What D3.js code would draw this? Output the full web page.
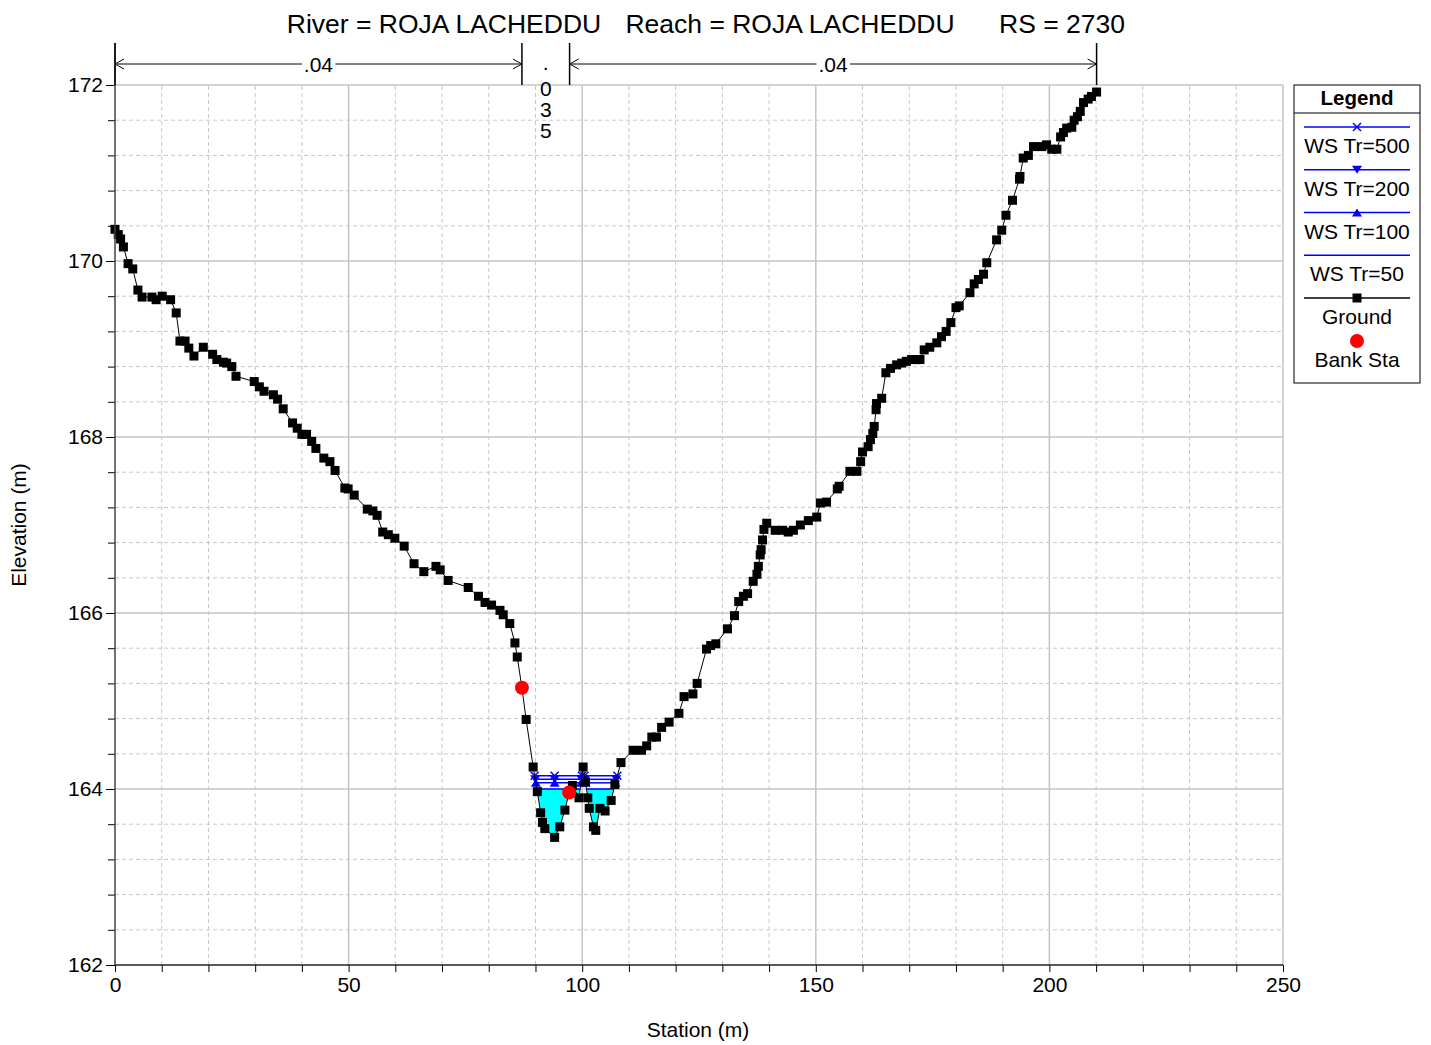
<!DOCTYPE html>
<html>
<head>
<meta charset="utf-8">
<script src="https://cdn.jsdelivr.net/npm/d3@7"></script>
<style>
  body { margin: 0; background: #fff; }
  svg { display: block; font-family: "Liberation Sans", Arial, Helvetica, sans-serif; }
</style>
</head>
<body>
<svg id="chart" width="1431" height="1045"></svg>
<script>
// ground points (station m, elevation m)
const groundSta = [
  0.0, 0.7, 1.2, 1.8, 2.8, 3.8, 4.9, 5.8, 7.9, 8.8, 10.1, 11.9, 13.1, 13.9, 15.0, 15.8, 16.9, 18.9,
  20.9, 21.8, 23.2, 23.9, 25.0, 25.9, 29.8, 30.9, 31.9, 33.9, 34.8, 36.0, 38.0, 39.0, 40.0, 41.0,
  42.1, 43.0, 44.7, 46.0, 47.1, 49.2, 49.9, 51.2, 54.0, 55.2, 56.1, 57.3, 58.5, 59.9, 61.9, 64.0,
  66.1, 68.7, 69.6, 71.3, 75.6, 77.8, 79.2, 80.6, 82.4, 83.1, 84.5, 85.6, 86.1, 87.1, 88.0, 89.5,
  90.4, 91.1, 91.5, 92.0, 94.1, 95.2, 96.3, 97.2, 97.9, 99.3, 100.2, 100.7, 101.2, 101.5, 102.4,
  102.9, 103.8, 104.9, 106.2, 107.0, 108.3, 110.9, 112.7, 113.8, 114.9, 115.9, 117.0, 118.6, 120.7,
  121.8, 123.7, 124.6, 126.6, 127.5, 128.6, 131.1, 132.6, 133.5, 134.5, 135.4, 136.6, 137.4, 137.7,
  138.1, 138.3, 138.6, 138.9, 139.5, 141.3, 142.9, 144.1, 145.2, 146.7, 148.4, 150.2, 151.0, 152.3,
  154.6, 155.0, 157.3, 158.8, 159.6, 160.0, 161.2, 161.7, 162.2, 162.5, 162.9, 163.0, 164.1, 165.0,
  166.0, 167.3, 168.4, 169.4, 170.5, 171.6, 172.3, 173.2, 174.4, 175.9, 176.9, 177.9, 178.9, 180.0,
  180.7, 183.0, 183.9, 184.8, 185.9, 186.6, 188.7, 189.8, 190.7, 192.1, 193.6, 193.7, 194.4, 195.5,
  196.6, 198.4, 199.4, 200.5, 201.6, 202.4, 203.0, 203.7, 204.8, 205.3, 206.0, 206.6, 207.3, 208.3,
  209.0, 210.1
]
const groundElev = [
  170.36, 170.30, 170.25, 170.16, 169.97, 169.91, 169.67, 169.59, 169.59, 169.56, 169.60, 169.56, 169.41, 169.09, 169.09, 169.01, 168.92, 169.02,
  168.94, 168.88, 168.85, 168.84, 168.80, 168.69, 168.63, 168.57, 168.52, 168.48, 168.43, 168.32, 168.16, 168.10, 168.03, 168.03,
  167.95, 167.87, 167.76, 167.72, 167.62, 167.42, 167.41, 167.34, 167.18, 167.16, 167.11, 166.92, 166.89, 166.85, 166.76, 166.56,
  166.47, 166.53, 166.49, 166.37, 166.29, 166.19, 166.12, 166.09, 166.03, 165.98, 165.88, 165.66, 165.50, 165.15, 164.79, 164.25,
  163.97, 163.73, 163.62, 163.55, 163.45, 163.57, 163.76, 163.96, 164.04, 163.90, 164.25, 164.08, 163.90, 163.78, 163.57,
  163.53, 163.78, 163.75, 163.87, 164.05, 164.30, 164.44, 164.44, 164.49, 164.59, 164.59, 164.70, 164.76, 164.86,
  165.05, 165.08, 165.20, 165.59, 165.63, 165.65, 165.82, 165.97, 166.13, 166.19, 166.22, 166.36, 166.44, 166.53,
  166.66, 166.72, 166.83, 166.95, 167.02, 166.94, 166.94, 166.92, 166.94, 167.00, 167.05, 167.09, 167.25, 167.26,
  167.41, 167.44, 167.61, 167.61, 167.72, 167.83, 167.89, 167.97, 168.04, 168.12, 168.31, 168.38, 168.44, 168.73,
  168.78, 168.82, 168.84, 168.86, 168.88, 168.88, 168.88, 168.99, 169.02, 169.07, 169.14, 169.20, 169.30, 169.47,
  169.49, 169.64, 169.74, 169.79, 169.85, 169.98, 170.24, 170.35, 170.52, 170.69, 170.93, 170.96, 171.17, 171.20,
  171.30, 171.30, 171.32, 171.27, 171.27, 171.41, 171.46, 171.51, 171.52, 171.60, 171.64, 171.70, 171.80, 171.84,
  171.87, 171.92
]

const bankSta = [87.1, 97.2]
const bankElev = [165.15, 163.96]

// water surfaces, highest first
const wsNames = ['WS Tr=500', 'WS Tr=200', 'WS Tr=100', 'WS Tr=50']
const wsElev = [164.15, 164.11, 164.07, 164.00]
const wsSymbols = ['x', 'down', 'up', 'none']

// manning n zones
const nBounds = [0, 87.1, 97.3, 210.1]
const nLabels = ['.04', '.035', '.04']

const xTicks = [0, 50, 100, 150, 200, 250]
const yTicks = [162, 164, 166, 168, 170, 172]

const titleParts = ['River = ROJA LACHEDDU', 'Reach = ROJA LACHEDDU', 'RS = 2730']

const
  svg = d3.select('#chart'),
  x = d3.scaleLinear().domain([0, 250]).range([115, 1283]),
  y = d3.scaleLinear().domain([162, 172]).range([965, 85])

const ground = groundSta.map((s, i) => ({ s: s, e: groundElev[i] }))

// ---- grid
const grid = svg.append('g')
grid.selectAll('.gx')
  .data(d3.range(10, 251, 10))
  .enter().append('line')
  .attr('x1', d => x(d)).attr('x2', d => x(d))
  .attr('y1', y(162)).attr('y2', y(172))
  .attr('stroke', d => d % 50 === 0 ? '#c4c4c4' : '#c8c8c8')
  .attr('stroke-width', d => d % 50 === 0 ? 1.5 : 1)
  .attr('stroke-dasharray', d => d % 50 === 0 ? null : '4,3')
grid.selectAll('.gy')
  .data(d3.range(1, 26).map(i => 162 + i * 0.4))
  .enter().append('line')
  .attr('x1', x(0)).attr('x2', x(250))
  .attr('y1', d => y(d)).attr('y2', d => y(d))
  .attr('stroke', (d, i) => (i + 1) % 5 === 0 ? '#c4c4c4' : '#c8c8c8')
  .attr('stroke-width', (d, i) => (i + 1) % 5 === 0 ? 1.5 : 1)
  .attr('stroke-dasharray', (d, i) => (i + 1) % 5 === 0 ? null : '4,3')

// ---- wet segments of a water surface along the ground line
function wetSegments(ws) {
  const segs = []
  let cur = null
  for (let i = 0; i < ground.length; i++) {
    const p = ground[i]
    if (i > 0) {
      const q = ground[i - 1]
      if ((q.e - ws) * (p.e - ws) < 0) {
        const xs = q.s + (ws - q.e) / (p.e - q.e) * (p.s - q.s)
        if (cur) { cur.pts.push({ s: xs, e: ws }); segs.push(cur); cur = null }
        else cur = { pts: [{ s: xs, e: ws }] }
      }
    }
    if (p.e < ws) {
      if (!cur) cur = { pts: [] }
      cur.pts.push(p)
    }
  }
  segs.forEach(sg => { sg.x0 = sg.pts[0].s; sg.x1 = sg.pts[sg.pts.length - 1].s })
  return segs
}

// ---- cyan fill for the lowest profile
const fillSegs = wetSegments(wsElev[wsElev.length - 1])
const line = d3.line().x(d => x(d.s)).y(d => y(d.e))
svg.append('g').selectAll('path')
  .data(fillSegs)
  .enter().append('path')
  .attr('d', d => line(d.pts) + 'Z')
  .attr('fill', '#00ffff')
  .attr('stroke', 'none')

// ---- water surface lines
const wsGroup = svg.append('g')
wsElev.forEach((ws, k) => {
  const segs = wetSegments(ws)
  wsGroup.append('g').selectAll('line')
    .data(segs)
    .enter().append('line')
    .attr('x1', d => x(d.x0)).attr('x2', d => x(d.x1))
    .attr('y1', y(ws)).attr('y2', y(ws))
    .attr('stroke', '#0000ff').attr('stroke-width', 1.5)
})

// ---- ground
svg.append('path')
  .datum(ground)
  .attr('d', line)
  .attr('fill', 'none')
  .attr('stroke', '#000')
  .attr('stroke-width', 1)
svg.append('g').selectAll('rect')
  .data(ground)
  .enter().append('rect')
  .attr('x', d => x(d.s) - 4.5).attr('y', d => y(d.e) - 4.5)
  .attr('width', 9).attr('height', 9)
  .attr('fill', '#000')

// ---- water surface markers (segment ends + thalweg of widest segment)
function marker(g, kind, cx, cy) {
  if (kind === 'x') {
    g.append('path')
      .attr('d', `M${cx - 4},${cy - 4}L${cx + 4},${cy + 4}M${cx - 4},${cy + 4}L${cx + 4},${cy - 4}`)
      .attr('stroke', '#0000ff').attr('stroke-width', 1.5).attr('fill', 'none')
  } else if (kind === 'down') {
    g.append('path').attr('d', `M${cx - 5},${cy - 4}L${cx + 5},${cy - 4}L${cx},${cy + 4}Z`).attr('fill', '#0000ff')
  } else if (kind === 'up') {
    g.append('path').attr('d', `M${cx - 5},${cy + 4}L${cx + 5},${cy + 4}L${cx},${cy - 4}Z`).attr('fill', '#0000ff')
  }
}
wsElev.forEach((ws, k) => {
  if (wsSymbols[k] === 'none') return
  const segs = wetSegments(ws)
  const widest = segs.reduce((a, b) => (b.x1 - b.x0 > a.x1 - a.x0 ? b : a))
  const low = widest.pts.reduce((a, b) => (b.e < a.e ? b : a))
  const spots = []
  segs.forEach(sg => { spots.push(sg.x0, sg.x1) })
  spots.push(low.s)
  spots.forEach(s => marker(wsGroup, wsSymbols[k], x(s), y(ws)))
})

// ---- bank stations
svg.append('g').selectAll('circle')
  .data(bankSta)
  .enter().append('circle')
  .attr('cx', d => x(d)).attr('cy', (d, i) => y(bankElev[i]))
  .attr('r', 7)
  .attr('fill', '#ff0000')

// ---- axes
const axisL = svg.append('g').attr('transform', `translate(${x(0)},0)`)
  .call(d3.axisLeft(y).tickValues(yTicks).tickSize(9).tickFormat(d3.format('d')).tickPadding(3))
axisL.select('.domain').remove()
axisL.selectAll('text').attr('font-size', 21).attr('fill', '#000').attr('font-family', null)
axisL.selectAll('line').attr('stroke', '#000')
svg.append('g').attr('transform', `translate(${x(0)},0)`)
  .call(d3.axisLeft(y).tickValues(d3.range(1, 25).map(i => 162 + i * 0.4)).tickSize(7).tickFormat(''))
  .call(g => g.select('.domain').remove())

const axisB = svg.append('g').attr('transform', `translate(0,${y(162)})`)
  .call(d3.axisBottom(x).tickValues(d3.range(0, 251, 10)).tickSize(7)
    .tickFormat(d => xTicks.indexOf(d) >= 0 ? d : '').tickPadding(5))
axisB.select('.domain').remove()
axisB.selectAll('text').attr('font-size', 21).attr('fill', '#000').attr('font-family', null)
axisB.selectAll('line').attr('stroke', '#000')

svg.append('line')
  .attr('x1', x(0)).attr('x2', x(0)).attr('y1', 43).attr('y2', y(162))
  .attr('stroke', '#444').attr('stroke-width', 1.5)
svg.append('line')
  .attr('x1', x(0)).attr('x2', x(250)).attr('y1', y(162)).attr('y2', y(162))
  .attr('stroke', '#222').attr('stroke-width', 1.5)

svg.append('text')
  .attr('x', 698).attr('y', 1037)
  .attr('text-anchor', 'middle').attr('font-size', 21)
  .text('Station (m)')
svg.append('text')
  .attr('transform', 'translate(26,525) rotate(-90)')
  .attr('text-anchor', 'middle').attr('font-size', 21)
  .text('Elevation (m)')

// ---- title
const titleX = [444, 790, 1062]
svg.append('g').selectAll('text')
  .data(titleParts)
  .enter().append('text')
  .attr('x', (d, i) => titleX[i]).attr('y', 33)
  .attr('text-anchor', 'middle').attr('font-size', 26.5)
  .text(d => d)

// ---- manning n zones
const nY = 64
const ng = svg.append('g')
nBounds.forEach(b => {
  ng.append('line')
    .attr('x1', x(b)).attr('x2', x(b)).attr('y1', 43).attr('y2', y(172))
    .attr('stroke', '#000').attr('stroke-width', 1.5)
})
function chevron(px, dir) {
  ng.append('path')
    .attr('d', `M${px - dir * 9},${nY - 5}L${px},${nY}L${px - dir * 9},${nY + 5}`)
    .attr('fill', 'none').attr('stroke', '#000').attr('stroke-width', 1)
}
nLabels.forEach((lab, i) => {
  const a = x(nBounds[i]), b = x(nBounds[i + 1]), mid = (a + b) / 2
  if (b - a > 80) {
    ng.append('line').attr('x1', a).attr('x2', b).attr('y1', nY).attr('y2', nY)
      .attr('stroke', '#000').attr('stroke-width', 1)
    chevron(a, -1)
    chevron(b, 1)
    const t = ng.append('text').attr('x', mid).attr('y', nY + 8)
      .attr('text-anchor', 'middle').attr('font-size', 21).text(lab)
    const bb = t.node().getBBox()
    ng.insert('rect', 'text:last-of-type')
      .attr('x', bb.x - 2).attr('y', nY - 6).attr('width', bb.width + 4).attr('height', 12)
      .attr('fill', '#fff')
    t.raise()
  } else {
    // too narrow: stack the characters vertically
    lab.split('').forEach((ch, j) => {
      ng.append('text').attr('x', mid).attr('y', j === 0 ? 70 : 75 + j * 21)
        .attr('text-anchor', 'middle').attr('font-size', 21).text(ch)
    })
  }
})

// ---- legend
const lg = svg.append('g')
lg.append('rect').attr('x', 1294).attr('y', 85).attr('width', 126).attr('height', 298)
  .attr('fill', '#fff').attr('stroke', '#000').attr('stroke-width', 1)
lg.append('text').attr('x', 1357).attr('y', 105).attr('text-anchor', 'middle')
  .attr('font-size', 20.5).attr('font-weight', 'bold').text('Legend')
lg.append('line').attr('x1', 1294).attr('x2', 1420).attr('y1', 113).attr('y2', 113)
  .attr('stroke', '#000')

const legendItems = wsNames.map((n, i) => ({ name: n, color: '#0000ff', sym: wsSymbols[i] }))
legendItems.push({ name: 'Ground', color: '#000', sym: 'square' })
legendItems.forEach((it, i) => {
  const ly = 127 + i * 42.75
  lg.append('line').attr('x1', 1304).attr('x2', 1410).attr('y1', ly).attr('y2', ly)
    .attr('stroke', it.color).attr('stroke-width', 1.3)
  if (it.sym === 'square') {
    lg.append('rect').attr('x', 1352.5).attr('y', ly - 4.5).attr('width', 9).attr('height', 9).attr('fill', '#000')
  } else {
    marker(lg, it.sym, 1357, ly)
  }
  lg.append('text').attr('x', 1357).attr('y', ly + 26).attr('text-anchor', 'middle')
    .attr('font-size', 21).text(it.name)
})
lg.append('circle').attr('cx', 1357).attr('cy', 341).attr('r', 7).attr('fill', '#ff0000')
lg.append('text').attr('x', 1357).attr('y', 367).attr('text-anchor', 'middle')
  .attr('font-size', 21).text('Bank Sta')
</script>
</body>
</html>
